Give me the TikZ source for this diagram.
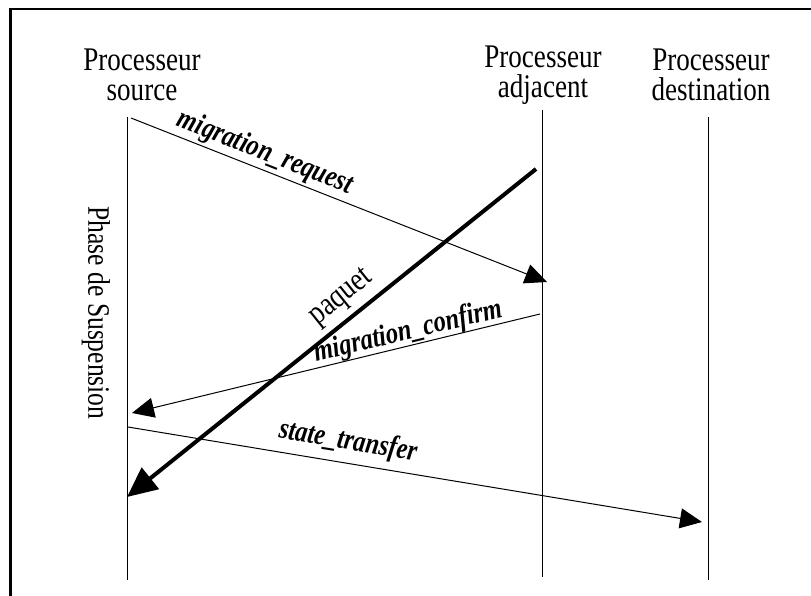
\documentclass[tikz,border=0pt]{standalone}
\usepackage{fontspec}
\setmainfont{Liberation Serif}[FakeStretch=0.82]
\usetikzlibrary{arrows.meta}
\tikzset{
	lifeline/.style={line width=0.5pt},
	message/.style={line width=0.5pt, -{Triangle[length=11pt,width=10pt]}},
	bigmessage/.style={line width=2pt, -{Triangle[length=15pt,width=13.5pt]}},
	header/.style={align=center, inner sep=0pt, font=\fontsize{16.5}{15}\selectfont},
	msglabel/.style={inner sep=0pt, font=\fontsize{15}{15}\selectfont\bfseries\itshape},
	paqlabel/.style={inner sep=0pt, font=\fontsize{16.5}{15}\selectfont},
	phaselabel/.style={inner sep=0pt, font=\fontsize{15.6}{15}\selectfont}
}
\begin{document}
\begin{tikzpicture}[x=0.5pt, y=-0.5pt]
		\useasboundingbox (0,0) rectangle (811,596);
		\draw [line width=1.25pt] (10.3,596) -- (10.3,9.2) -- (811,9.2);
		\node [header] (source) at (142,75) {Processeur\\source};
		\node [header] (adjacent) at (543,75) {Processeur\\adjacent};
		\node [header] (destination) at (711,75) {Processeur\\destination};
		\coordinate (srcTop) at (127,117);
		\coordinate (srcBot) at (127,580);
		\coordinate (adjTop) at (542,110);
		\coordinate (adjBot) at (542,577);
		\coordinate (dstTop) at (708,117);
		\coordinate (dstBot) at (708,580);
		\draw [lifeline] (srcTop) -- (srcBot);
		\draw [lifeline] (adjTop) -- (adjBot);
		\draw [lifeline] (dstTop) -- (dstBot);
		\coordinate (reqA) at (131,118);
		\coordinate (reqB) at (547,282);
		\coordinate (paqA) at (536,169);
		\coordinate (paqB) at (127,497);
		\coordinate (confA) at (540,314);
		\coordinate (confB) at (132,413);
		\coordinate (stA) at (128,427);
		\coordinate (stB) at (702,522);
		\draw [message] (reqA) -- (reqB);
		\draw [message] (confA) -- (confB);
		\draw [message] (stA) -- (stB);
		\draw [bigmessage] (paqA) -- (paqB);
		\node [msglabel, rotate=-21.5] (reqLabel) at (265,153) {migration\_request};
		\node [paqlabel, rotate=38.8] (paqLabel) at (342,298) {paquet};
		\node [msglabel, rotate=13.6] (confLabel) at (408,332) {migration\_confirm};
		\node [msglabel, rotate=-9.4] (stLabel) at (348,442) {state\_transfer};
		\node [phaselabel, rotate=-90] (phase) at (96,313) {Phase de Suspension};
	\end{tikzpicture}
\end{document}
